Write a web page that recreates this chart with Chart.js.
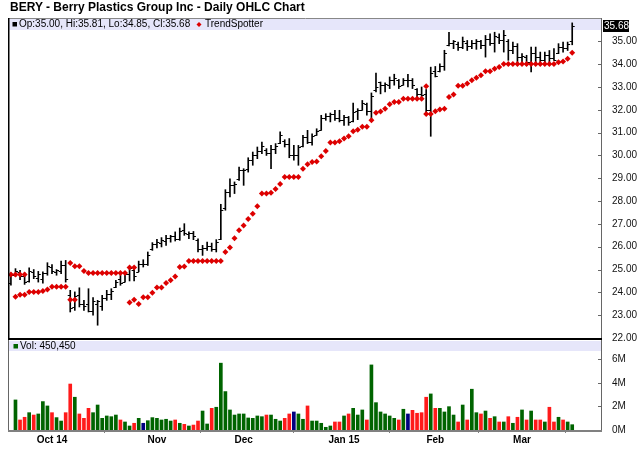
<!DOCTYPE html>
<html>
<head>
<meta charset="utf-8">
<script src="https://cdn.jsdelivr.net/npm/chart.js@4.4.1/dist/chart.umd.min.js"></script>
<style>
body { margin: 0; background: #fff; }
#wrap { position: relative; width: 640px; height: 468px; overflow: hidden; }
#title { position: absolute; left: 10px; top: 0; font: bold 12px/14px "Liberation Sans", Arial, sans-serif; color: #000; white-space: nowrap; }
#priceChart { position: absolute; left: 0; top: 0; }
#volChart { position: absolute; left: 0; top: 330px; }
</style>
</head>
<body>
<div id="wrap">
  <canvas id="priceChart" width="640" height="350"></canvas>
  <canvas id="volChart" width="640" height="138"></canvas>
  <div id="title">BERY - Berry Plastics Group Inc - Daily OHLC Chart</div>
</div>
<script>
// trading days, Sep 18 2014 .. Mar 17 2015
const dates = [
  '2014-09-18','2014-09-19','2014-09-22','2014-09-23','2014-09-24','2014-09-25','2014-09-26','2014-09-29','2014-09-30',
  '2014-10-01','2014-10-02','2014-10-03','2014-10-06','2014-10-07','2014-10-08','2014-10-09','2014-10-10','2014-10-13','2014-10-14',
  '2014-10-15','2014-10-16','2014-10-17','2014-10-20','2014-10-21','2014-10-22','2014-10-23','2014-10-24','2014-10-27','2014-10-28',
  '2014-10-29','2014-10-30','2014-10-31',
  '2014-11-03','2014-11-04','2014-11-05','2014-11-06','2014-11-07','2014-11-10','2014-11-11','2014-11-12','2014-11-13','2014-11-14',
  '2014-11-17','2014-11-18','2014-11-19','2014-11-20','2014-11-21','2014-11-24','2014-11-25','2014-11-26','2014-11-28',
  '2014-12-01','2014-12-02','2014-12-03','2014-12-04','2014-12-05','2014-12-08','2014-12-09','2014-12-10','2014-12-11','2014-12-12',
  '2014-12-15','2014-12-16','2014-12-17','2014-12-18','2014-12-19','2014-12-22','2014-12-23','2014-12-24','2014-12-26','2014-12-29',
  '2014-12-30','2014-12-31',
  '2015-01-02','2015-01-05','2015-01-06','2015-01-07','2015-01-08','2015-01-09','2015-01-12','2015-01-13','2015-01-14','2015-01-15',
  '2015-01-16','2015-01-20','2015-01-21','2015-01-22','2015-01-23','2015-01-26','2015-01-27','2015-01-28','2015-01-29','2015-01-30',
  '2015-02-02','2015-02-03','2015-02-04','2015-02-05','2015-02-06','2015-02-09','2015-02-10','2015-02-11','2015-02-12','2015-02-13',
  '2015-02-17','2015-02-18','2015-02-19','2015-02-20','2015-02-23','2015-02-24','2015-02-25','2015-02-26','2015-02-27',
  '2015-03-02','2015-03-03','2015-03-04','2015-03-05','2015-03-06','2015-03-09','2015-03-10','2015-03-11','2015-03-12','2015-03-13',
  '2015-03-16','2015-03-17'
];

const opens = [
  24.40, 24.75, 24.90, 24.70, 24.50, 24.90, 24.65, 24.60, 24.85, 25.10,
  24.90, 24.95, 25.20, 23.90, 23.35, 23.90, 23.50, 23.50, 23.20, 23.50,
  23.40, 23.75, 23.95, 24.25, 24.60, 24.45, 24.80, 25.00, 24.90, 25.25,
  25.25, 25.90, 26.10, 26.15, 26.25, 26.40, 26.45, 26.35, 26.75, 26.55,
  26.60, 26.30, 25.90, 25.95, 26.05, 25.90, 26.35, 27.70, 28.40, 28.70,
  28.95, 29.35, 29.40, 29.80, 30.00, 30.20, 30.25, 30.10, 30.30, 30.55,
  30.65, 30.50, 30.00, 30.00, 30.40, 30.80, 30.60, 30.90, 31.10, 31.65,
  31.75, 31.80, 31.65, 31.55, 31.70, 31.50, 31.95, 32.00, 32.25, 31.95,
  32.85, 33.20, 33.10, 33.10, 33.30, 33.30, 33.10, 33.30, 33.30, 32.90,
  32.70, 32.70, 32.00, 33.70, 33.70, 33.90, 34.85, 34.95, 34.90, 34.75,
  34.95, 34.80, 34.95, 35.00, 34.85, 35.10, 34.95, 35.20, 35.05, 35.00,
  34.60, 34.80, 34.30, 34.30, 34.10, 34.50, 34.30, 34.20, 34.40, 34.25,
  34.50, 34.75, 34.70, 35.00
];
const highs = [
  24.85, 25.04, 24.97, 24.85, 25.08, 25.00, 24.92, 24.90, 25.30, 25.22,
  25.00, 25.37, 25.40, 24.09, 24.02, 24.20, 23.65, 24.16, 23.77, 23.65,
  23.87, 24.09, 24.16, 24.53, 24.75, 24.90, 25.14, 25.04, 25.37, 25.43,
  25.77, 26.18, 26.32, 26.40, 26.50, 26.50, 26.65, 26.82, 27.01, 26.65,
  26.67, 26.35, 26.06, 26.20, 26.16, 26.31, 27.86, 28.50, 28.98, 28.84,
  29.49, 29.42, 29.90, 30.15, 30.37, 30.59, 30.30, 30.44, 30.52, 31.03,
  30.69, 30.74, 30.44, 30.44, 30.88, 31.10, 30.95, 31.17, 31.76, 31.83,
  31.86, 31.98, 31.98, 31.76, 31.71, 32.30, 32.05, 32.41, 32.30, 32.74,
  33.61, 33.22, 33.18, 33.44, 33.56, 33.33, 33.37, 33.55, 33.37, 32.93,
  33.00, 32.89, 33.87, 33.90, 34.02, 34.61, 35.40, 35.04, 34.97, 35.19,
  35.04, 35.04, 35.08, 35.04, 35.26, 35.33, 35.40, 35.33, 35.48, 35.08,
  34.97, 34.90, 34.46, 34.39, 34.75, 34.75, 34.53, 34.53, 34.60, 34.68,
  34.90, 34.97, 34.97, 35.81
];
const lows = [
  24.31, 24.70, 24.56, 24.35, 24.45, 24.60, 24.45, 24.40, 24.75, 24.82,
  24.75, 24.82, 24.45, 23.14, 23.21, 23.36, 23.21, 23.14, 23.00, 22.56,
  23.21, 23.65, 23.68, 24.21, 24.31, 24.45, 24.50, 24.50, 24.90, 25.11,
  25.18, 25.84, 25.95, 25.99, 26.06, 26.20, 26.25, 26.28, 26.50, 26.35,
  26.31, 25.77, 25.62, 25.84, 25.80, 25.77, 26.31, 27.60, 28.18, 28.33,
  28.91, 28.69, 29.27, 29.57, 29.86, 30.08, 30.00, 29.42, 30.08, 30.52,
  30.37, 29.90, 29.79, 29.57, 30.37, 30.52, 30.45, 30.88, 31.10, 31.54,
  31.47, 31.54, 31.47, 31.32, 31.32, 31.47, 31.57, 31.98, 31.76, 31.54,
  32.78, 32.70, 32.78, 32.93, 33.08, 32.93, 33.08, 33.00, 32.93, 32.56,
  32.56, 31.91, 30.84, 33.44, 33.66, 33.73, 34.80, 34.68, 34.60, 34.68,
  34.60, 34.68, 34.65, 34.68, 34.31, 34.82, 34.53, 34.90, 34.53, 34.17,
  34.46, 34.02, 34.09, 33.95, 33.66, 34.02, 34.02, 34.02, 34.09, 34.17,
  34.46, 34.53, 34.60, 34.85
];
const closes = [
  24.75, 24.95, 24.70, 24.45, 24.95, 24.70, 24.80, 24.85, 25.15, 24.95,
  24.98, 25.20, 24.60, 23.30, 23.85, 23.50, 23.40, 23.20, 23.60, 23.62,
  23.75, 23.95, 24.05, 24.45, 24.40, 24.80, 25.05, 24.70, 25.25, 25.25,
  25.65, 26.10, 26.20, 26.30, 26.40, 26.45, 26.35, 26.70, 26.60, 26.62,
  26.45, 25.90, 25.95, 26.05, 25.90, 26.20, 27.60, 28.40, 28.70, 28.75,
  29.35, 29.38, 29.80, 30.00, 30.20, 30.40, 30.10, 30.30, 30.40, 30.90,
  30.50, 30.00, 30.00, 30.35, 30.80, 30.60, 30.85, 31.05, 31.65, 31.75,
  31.80, 31.65, 31.55, 31.70, 31.45, 31.90, 32.00, 32.30, 31.95, 32.60,
  33.00, 33.10, 33.15, 33.30, 33.40, 33.05, 33.30, 33.30, 33.10, 32.70,
  32.65, 32.00, 33.60, 33.50, 33.90, 34.50, 34.95, 35.00, 34.75, 35.00,
  34.80, 34.95, 35.00, 34.85, 35.10, 34.95, 35.25, 35.05, 35.30, 34.60,
  34.80, 34.30, 34.35, 34.10, 34.50, 34.30, 34.20, 34.40, 34.25, 34.20,
  34.75, 34.70, 34.90, 35.68
];
// volume in millions of shares
const volume = [
  null, 2.55, 0.85, 1.08, 1.47, 1.27, 1.36, 2.41, 2.04, 1.47,
  1.05, 0.76, 1.47, 3.90, 2.78, 1.36, 0.99, 1.84, 1.47, 2.12,
  0.99, 1.19, 1.13, 1.27, 0.85, 0.68, 0.34, 0.57, 0.99, 0.57,
  0.79, 1.05, 0.99, 0.85, 0.91, 0.76, 0.85, 0.57, 0.48, 0.34,
  0.42, 0.76, 1.61, 0.51, 1.84, 1.93, 5.67, 3.26, 1.70, 1.27,
  1.36, 1.36, 1.02, 0.99, 1.19, 1.13, 1.27, 1.27, 0.91, 0.76,
  0.99, 1.36, 1.53, 1.36, 0.91, 2.04, 0.76, 0.76, 0.57, 0.23,
  0.34, 0.68, 0.68, 1.19, 1.36, 1.84, 1.27, 1.70, 0.85, 5.52,
  2.32, 1.53, 1.36, 1.19, 0.99, 0.85, 1.76, 1.36, 1.67, 1.42,
  1.47, 2.78, 3.06, 1.84, 1.84, 1.53, 1.98, 1.27, 0.68, 2.12,
  0.85, 3.46, 1.47, 1.36, 1.61, 0.99, 1.13, 0.68, 0.68, 1.13,
  0.57, 1.08, 1.70, 0.85, 1.61, 0.85, 0.85, 0.68, 1.93, 0.68,
  1.08, 0.85, 0.68, 0.45045
];
// TrendSpotter, two rows where the signal flips
const trendLow = [
  null, 23.81, 23.90, 23.90, 24.02, 24.02, 24.02, 24.06, 24.13, 24.25,
  24.25, 24.25, 24.25, 23.68, 23.68, null, null, null, null, null,
  null, null, null, null, null, null, 23.56, 23.68, 23.49, 23.79,
  23.79, 23.98, 24.21, 24.21, 24.41, 24.53, 24.70, 25.11, 25.13, 25.37,
  25.37, 25.37, 25.37, 25.37, 25.37, 25.37, 25.37, 25.77, 25.97, 26.37,
  26.72, 26.93, 27.22, 27.45, 27.77, 28.33, 28.33, 28.37, 28.53, 28.75,
  29.06, 29.06, 29.06, 29.06, 29.42, 29.61, 29.71, 29.74, 29.97, 30.19,
  30.57, 30.57, 30.62, 30.74, 30.84, 31.06, 31.13, 31.26, 31.26, 31.54,
  31.87, 31.93, 32.05, 32.24, 32.34, 32.34, 32.49, 32.49, 32.49, 32.49,
  32.49, 31.82, 31.82, 31.94, 32.01, 32.05, 32.56, 32.67, 33.05, 33.05,
  33.15, 33.30, 33.41, 33.51, 33.69, 33.69, 33.80, 33.88, 34.01, 34.01,
  34.01, 34.01, 34.01, 34.01, 34.01, 34.01, 34.01, 34.01, 34.01, 34.01,
  34.08, 34.12, 34.24, 34.50
];
const trendHigh = [
  24.78, 24.78, 24.78, 24.78, null, null, null, null, null, null,
  null, null, null, 25.29, 25.14, 25.14, 24.94, 24.85, 24.85, 24.85,
  24.85, 24.85, 24.85, 24.85, 24.85, 24.85, 25.09, 25.09, null, null,
  null, null, null, null, null, null, null, null, null, null,
  null, null, null, null, null, null, null, null, null, null,
  null, null, null, null, null, null, null, null, null, null,
  null, null, null, null, null, null, null, null, null, null,
  null, null, null, null, null, null, null, null, null, null,
  null, null, null, null, null, null, null, null, null, null,
  null, 33.03, null, null, null, null, null, null, null, null,
  null, null, null, null, null, null, null, null, null, null,
  null, null, null, null, null, null, null, null, null, null,
  null, null, null, null
];

const priceTicks = [22, 23, 24, 25, 26, 27, 28, 29, 30, 31, 32, 33, 34, 35];
const volTicks = [0, 2, 4, 6];
const monthLabels = ['Oct 14', 'Nov', 'Dec', 'Jan 15', 'Feb', 'Mar'];

// first trading day of each month gets a tick
const monthTicks = dates.reduce((acc, d, i) => {
    if (i > 0 && d.slice(0, 7) !== dates[i - 1].slice(0, 7)) acc.push(i);
    return acc;
}, []);

const last = closes.length - 1;
const FONT = '10px "Liberation Sans", Arial, sans-serif';
const X_MIN = -0.42, X_MAX = 129.31;

Chart.defaults.font.family = '"Liberation Sans", Arial, sans-serif';
Chart.defaults.font.size = 10;
Chart.defaults.color = '#111';

function volColor(i) {
    if (i <= 0) return '#006400';
    const d = closes[i] - closes[i - 1];
    if (Math.abs(d) < 0.0001) return '#000080';
    return d > 0 ? '#006400' : '#ff1a1a';
}

function inwardTicks(ctx, scale, values, xRight) {
    ctx.beginPath();
    values.forEach(v => {
        const y = Math.round(scale.getPixelForValue(v)) + 0.5;
        ctx.moveTo(xRight - 3, y);
        ctx.lineTo(xRight, y);
    });
    ctx.stroke();
}

const pricePanel = {
    id: 'pricePanel',
    beforeDatasetsDraw(chart) {
        const { ctx, chartArea: a } = chart;
        ctx.save();
        ctx.fillStyle = '#e6e6fa';
        ctx.fillRect(a.left, a.top, a.right - a.left, 11);
        ctx.fillStyle = '#000';
        ctx.fillRect(a.left + 3.5, a.top + 3, 4.5, 4.5);
        ctx.font = FONT;
        ctx.textBaseline = 'middle';
        ctx.fillText('Op:' + opens[last].toFixed(2) + ', Hi:' + highs[last].toFixed(2) +
            ', Lo:' + lows[last].toFixed(2) + ', Cl:' + closes[last].toFixed(2), a.left + 10, a.top + 5.5);
        // TrendSpotter key
        ctx.fillStyle = '#dd0000';
        ctx.beginPath();
        ctx.moveTo(199, a.top + 3); ctx.lineTo(201.5, a.top + 5.5);
        ctx.lineTo(199, a.top + 8); ctx.lineTo(196.5, a.top + 5.5);
        ctx.closePath();
        ctx.fill();
        ctx.fillStyle = '#000';
        ctx.fillText('TrendSpotter', 205, a.top + 5.5);
        ctx.restore();
    },
    afterDatasetDraw(chart, args) {
        if (args.index !== 0) return;
        const { ctx, scales: { x, y } } = chart;
        ctx.save();
        ctx.strokeStyle = '#000';
        ctx.lineWidth = 1;
        ctx.beginPath();
        closes.forEach((c, i) => {
            const px = x.getPixelForValue(i);
            const yo = Math.round(y.getPixelForValue(opens[i])) + 0.5;
            const yc = Math.round(y.getPixelForValue(c)) + 0.5;
            ctx.moveTo(px - 2.5, yo); ctx.lineTo(px, yo);
            ctx.moveTo(px, yc); ctx.lineTo(px + 2.5, yc);
        });
        ctx.stroke();
        ctx.restore();
    },
    afterDraw(chart) {
        const { ctx, chartArea: a, scales: { y } } = chart;
        ctx.save();
        ctx.lineWidth = 1;
        ctx.strokeStyle = '#888';
        ctx.beginPath();
        ctx.moveTo(a.left, a.top - 0.5); ctx.lineTo(a.right + 1, a.top - 0.5);
        ctx.stroke();
        ctx.strokeStyle = '#666';
        ctx.beginPath();
        ctx.moveTo(a.right + 0.5, a.top - 1); ctx.lineTo(a.right + 0.5, a.bottom + 2);
        ctx.stroke();
        inwardTicks(ctx, y, priceTicks, a.right);
        ctx.fillStyle = '#000';
        ctx.fillRect(a.left - 1, a.top - 1, 1.5, a.bottom - a.top + 3);
        ctx.fillRect(a.left - 1, a.bottom, a.right - a.left + 2, 2);
        // last price flag
        const yc = y.getPixelForValue(closes[last]);
        ctx.fillRect(a.right + 2, Math.round(yc) - 6, 26, 12);
        ctx.fillStyle = '#fff';
        ctx.font = FONT;
        ctx.textBaseline = 'middle';
        ctx.fillText(closes[last].toFixed(2), a.right + 3, Math.round(yc) + 0.5);
        ctx.restore();
    }
};

const volPanel = {
    id: 'volPanel',
    beforeDatasetsDraw(chart) {
        const { ctx, chartArea: a } = chart;
        ctx.save();
        ctx.fillStyle = '#e6e6fa';
        ctx.fillRect(a.left, a.top, a.right - a.left, 10);
        ctx.fillStyle = '#006400';
        ctx.fillRect(a.left + 4.5, a.top + 3, 4.5, 4.5);
        ctx.fillStyle = '#000';
        ctx.font = FONT;
        ctx.textBaseline = 'middle';
        ctx.fillText('Vol: ' + Math.round(volume[last] * 1e6).toLocaleString('en-US'), a.left + 11, a.top + 5.5);
        ctx.restore();
    },
    afterDraw(chart) {
        const { ctx, chartArea: a, scales: { y } } = chart;
        ctx.save();
        ctx.lineWidth = 1;
        ctx.strokeStyle = '#666';
        ctx.beginPath();
        ctx.moveTo(a.right + 0.5, a.top - 1); ctx.lineTo(a.right + 0.5, a.bottom + 2);
        ctx.moveTo(a.left - 0.5, a.top - 1); ctx.lineTo(a.left - 0.5, a.bottom + 2);
        ctx.stroke();
        inwardTicks(ctx, y, volTicks, a.right);
        ctx.fillStyle = '#808080';
        ctx.fillRect(a.left - 1, a.bottom, a.right - a.left + 2, 2);
        ctx.restore();
    }
};

new Chart(document.getElementById('priceChart'), {
    type: 'bar',
    data: {
        datasets: [{
            label: 'OHLC',
            data: highs.map((h, i) => ({ x: i, y: [lows[i], h] })),
            backgroundColor: '#000',
            barThickness: 1,
            order: 2
        }, {
            type: 'line',
            label: 'TrendSpotter',
            data: trendLow.map((v, i) => ({ x: i, y: v })),
            showLine: false,
            pointStyle: 'rectRot',
            pointRadius: 3,
            pointBorderWidth: 0,
            pointBackgroundColor: '#dd0000',
            order: 1
        }, {
            type: 'line',
            label: 'TrendSpotter',
            data: trendHigh.map((v, i) => ({ x: i, y: v })),
            showLine: false,
            pointStyle: 'rectRot',
            pointRadius: 3,
            pointBorderWidth: 0,
            pointBackgroundColor: '#dd0000',
            order: 1
        }]
    },
    options: {
        responsive: false,
        animation: false,
        events: [],
        layout: { padding: { left: 9, top: 19, bottom: 12, right: 0 } },
        plugins: { legend: { display: false }, tooltip: { enabled: false } },
        scales: {
            x: { type: 'linear', min: X_MIN, max: X_MAX, offset: false, display: false },
            y: {
                type: 'linear', position: 'right', min: 22, max: 35.98,
                afterBuildTicks: s => { s.ticks = priceTicks.map(v => ({ value: v })); },
                afterFit: s => { s.width = 39; },
                ticks: { padding: 3, color: '#111', callback: v => v.toFixed(2) },
                grid: { display: false },
                border: { display: false }
            }
        }
    },
    plugins: [pricePanel]
});

new Chart(document.getElementById('volChart'), {
    type: 'bar',
    data: {
        datasets: [{
            label: 'Volume',
            data: volume.map((v, i) => ({ x: i, y: v })),
            backgroundColor: c => volColor(c.dataIndex),
            barThickness: 3
        }]
    },
    options: {
        responsive: false,
        animation: false,
        events: [],
        layout: { padding: { left: 9, top: 11, bottom: 18, right: 0 } },
        plugins: { legend: { display: false }, tooltip: { enabled: false } },
        scales: {
            x: {
                type: 'linear', min: X_MIN, max: X_MAX, offset: false,
                afterBuildTicks: s => { s.ticks = monthTicks.map(v => ({ value: v })); },
                afterFit: s => { s.height = 20; },
                ticks: {
                    autoSkip: false, maxRotation: 0, padding: 1, color: '#000',
                    font: { weight: 'bold', size: 10 },
                    callback: (v, i) => monthLabels[i]
                },
                grid: { drawOnChartArea: false, drawTicks: true, tickLength: 3, color: '#808080' },
                border: { display: false }
            },
            y: {
                type: 'linear', position: 'right', min: 0, max: 7.55,
                afterBuildTicks: s => { s.ticks = volTicks.map(v => ({ value: v })); },
                afterFit: s => { s.width = 39; },
                ticks: { padding: 3, color: '#111', callback: v => v + 'M' },
                grid: { display: false },
                border: { display: false }
            }
        }
    },
    plugins: [volPanel]
});
</script>
</body>
</html>
